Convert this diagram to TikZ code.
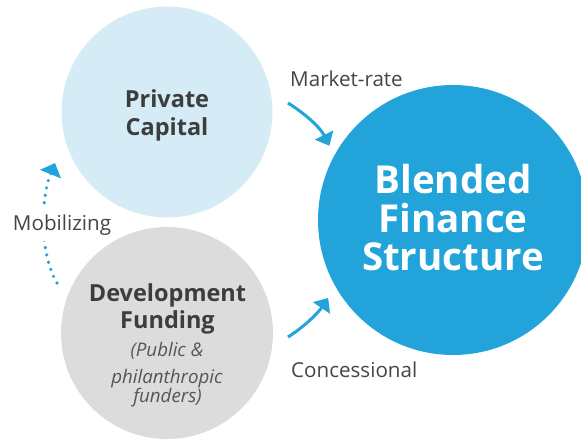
\documentclass[tikz,border=0pt]{standalone}
\usepackage{fontspec}
\setmainfont{Open Sans}
\usetikzlibrary{arrows.meta,calc}
\definecolor{lightblue}{HTML}{D5ECF7}
\definecolor{lightgrey}{HTML}{DCDCDC}
\definecolor{mainblue}{HTML}{22A4DA}
\definecolor{darktext}{HTML}{3D3D3D}
\definecolor{labeltext}{HTML}{454545}
\definecolor{softtext}{HTML}{555555}
\tikzset{
  bubble/.style={circle, inner sep=0pt, draw=none},
  boldtxt/.style={anchor=base, text=darktext, font=\fontsize{23.5}{27}\selectfont\bfseries},
  bigtxt/.style={anchor=base, text=white, font=\fontsize{38.5}{42}\selectfont\bfseries},
  smalltxt/.style={anchor=base, text=softtext, font=\fontsize{18.7}{21}\selectfont\itshape},
  labeltxt/.style={text=labeltext, font=\fontsize{20.6}{23}\selectfont, inner sep=1pt},
  flowarrow/.style={draw=mainblue, line width=3pt, -{Triangle[length=12pt,width=20pt]}},
  dotarrow/.style={draw=mainblue, line width=3.6pt, line cap=round, dash pattern=on 0pt off 7.5pt, -{Triangle[length=12pt,width=22pt]}}
}
\begin{document}
\begin{tikzpicture}[x=1pt,y=-1pt]
\useasboundingbox (0,0) rectangle (581,442);
\clip (0,0) rectangle (581,442);
% circles
\node[bubble, fill=lightblue, minimum size=211pt] (pc) at (167,112) {};
\node[bubble, fill=lightgrey, minimum size=212pt] (df) at (167,333) {};
\node[bubble, fill=mainblue, minimum size=270pt] (bfs) at (453,220) {};
% texts
\node[boldtxt] (pc1) at (167,107) {Private};
\node[boldtxt] (pc2) at (167,135) {Capital};
\node[bigtxt] (bf1) at (453,193) {Blended};
\node[bigtxt] (bf2) at (453,232) {Finance};
\node[bigtxt] (bf3) at (453,270) {Structure};
\node[boldtxt] (df1) at (167.5,301) {Development};
\node[boldtxt] (df2) at (167.5,328) {Funding};
\node[smalltxt] (df3) at (167,356) {(Public \&};
\node[smalltxt] (df4) at (167,383) {philanthropic};
\node[smalltxt] (df5) at (167.5,402) {funders)};
% connectors
\coordinate (mrstart) at (288,103);
\coordinate (cnstart) at (288,337);
\coordinate (mobstart) at (57,283);
\coordinate (mobend) at (55,163);
\draw[flowarrow] (mrstart) .. controls (304,113) and (320,127) .. ($(bfs.149)!-9pt!(bfs.center)$);
\draw[flowarrow] (cnstart) .. controls (304,327) and (318,313) .. ($(bfs.212)!-12pt!(bfs.center)$);
\draw[dotarrow] (mobstart) .. controls (40,255) and (40,200) .. (mobend);
% labels
\node[labeltxt, anchor=base west] (mr) at (289,86) {Market-rate};
\node[labeltxt, anchor=base west] (cn) at (290,377) {Concessional};
\node[labeltxt, anchor=base, fill=white, inner xsep=2pt, inner ysep=6pt] (mob) at (62,230) {Mobilizing};
\end{tikzpicture}
\end{document}
